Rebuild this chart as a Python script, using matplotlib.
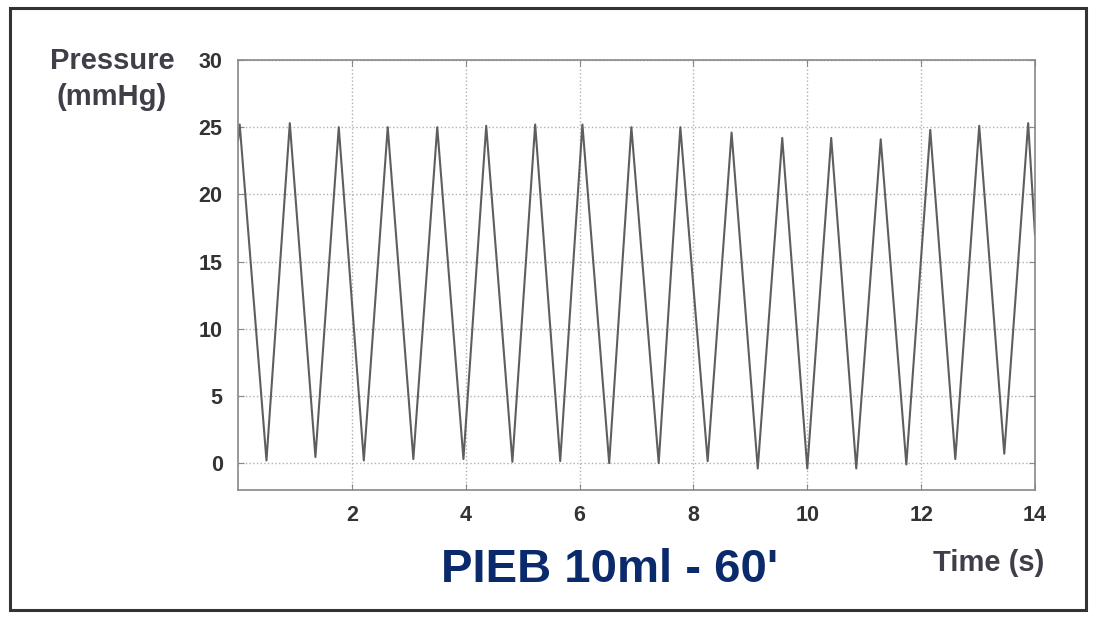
import matplotlib
matplotlib.use('Agg')
import matplotlib.pyplot as plt
from matplotlib.patches import Rectangle

plt.rcParams['font.family'] = ['Liberation Sans', 'DejaVu Sans']

# Peak / trough vertices (time in s, pressure in mmHg)
peak_t = [0.03, 0.91, 1.77, 2.63, 3.50, 4.36, 5.22, 6.05, 6.91, 7.77,
          8.67, 9.56, 10.42, 11.29, 12.16, 13.02, 13.88]
peak_p = [25.2, 25.3, 25.0, 25.0, 25.0, 25.1, 25.2, 25.2, 25.0, 25.0,
          24.6, 24.2, 24.2, 24.1, 24.8, 25.1, 25.3]
trough_t = [0.50, 1.36, 2.21, 3.08, 3.96, 4.82, 5.66, 6.52, 7.39, 8.25,
            9.13, 10.00, 10.86, 11.74, 12.60, 13.46]
trough_p = [0.2, 0.45, 0.2, 0.3, 0.3, 0.1, 0.15, 0.0, 0.0, 0.15,
            -0.4, -0.4, -0.4, -0.1, 0.3, 0.7]
start_t, start_p = 0.0, 24.0
end_t, end_p = 14.0, 17.0

x_ticks = [2, 4, 6, 8, 10, 12, 14]
y_ticks = [0, 5, 10, 15, 20, 25, 30]

# merge peaks and troughs into one trace
t = [start_t]
p = [start_p]
for i in range(len(peak_t)):
    t.append(peak_t[i])
    p.append(peak_p[i])
    if i < len(trough_t):
        t.append(trough_t[i])
        p.append(trough_p[i])
t.append(end_t)
p.append(end_p)

fig = plt.figure(figsize=(11.02, 6.2), dpi=100)
ax = fig.add_axes([238 / 1102, 1 - 490 / 620, (1035 - 238) / 1102, (490 - 60) / 620])

ax.plot(t, p, color='#5e5e5e', lw=1.5, solid_joinstyle='round')
ax.set_xlim(0, 14)
ax.set_ylim(-2, 30)
ax.set_xticks(x_ticks)
ax.set_yticks(y_ticks)
ax.grid(True, linestyle=':', color='#b0b0b0', lw=1.0)
ax.tick_params(direction='in', length=4, color='#888888', top=True, right=True,
               labelsize=15.5, labelcolor='#333333', pad=11)
for lab in ax.get_xticklabels() + ax.get_yticklabels():
    lab.set_fontweight('bold')
for s in ax.spines.values():
    s.set_color('#888888')
    s.set_linewidth(1.2)

fig.text(112 / 1102, 1 - 79 / 620, 'Pressure\n(mmHg)', ha='center', va='center',
         fontsize=21, fontweight='bold', color='#3f3f4a', linespacing=1.4)
fig.text(989 / 1102, 1 - 563 / 620, 'Time (s)', ha='center', va='center',
         fontsize=21, fontweight='bold', color='#3f3f4a')
fig.text(610 / 1102, 1 - 570 / 620, "PIEB 10ml - 60'", ha='center', va='center',
         fontsize=34, fontweight='bold', color='#0b2a6b')

# outer frame
fig.patches.append(Rectangle((10 / 1102, 1 - 610 / 620), 1076 / 1102, 602 / 620,
                             transform=fig.transFigure, fill=False,
                             edgecolor='#333333', lw=2.2))

fig.savefig('out.png', dpi=100)
